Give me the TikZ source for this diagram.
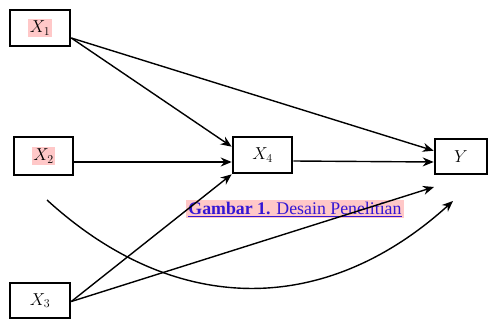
\documentclass[tikz,border=0pt]{standalone}
\usepackage{fontspec}
\newfontfamily\capfont{Liberation Serif}
\usetikzlibrary{arrows.meta}
\definecolor{hl}{RGB}{255,200,200}
\definecolor{captxt}{RGB}{52,22,212}
\setlength{\fboxsep}{1.5pt}
\begin{document}
\begin{tikzpicture}[x=1pt,y=-1pt,
  var/.style={draw,line width=2.6pt,inner sep=0pt,fill=white,font=\fontsize{17.28}{19}\selectfont},
  conn/.style={line width=1.4pt,-{Stealth[length=11pt,width=9pt]}}]
\useasboundingbox (0,0) rectangle (488,321);
\node[var,minimum width=60pt,minimum height=36pt] (X1) at (40,28) {\colorbox{hl}{$X_1$}};
\node[var,minimum width=59pt,minimum height=38pt] (X2) at (43.5,156) {\colorbox{hl}{$X_2$}};
\node[var,minimum width=60pt,minimum height=35pt] (X3) at (40,300.5) {$X_3$};
\node[var,minimum width=59pt,minimum height=36pt] (X4) at (262.5,155) {$X_4$};
\node[var,minimum width=52pt,minimum height=35pt] (Y) at (461,156.5) {$Y$};
\coordinate (yb) at (434,187);
\coordinate (cs) at (47,200);
\coordinate (ce) at (453,201);
\node[fill=hl,inner sep=2pt,text=captxt,font=\capfont\fontsize{17.8}{20}\selectfont] (cap) at (295,209)
  {\underline{\textbf{Gambar 1.} Desain Penelitian}};
\draw[conn] ([yshift=-10pt]X1.east) -- ([yshift=-11pt]X4.north west);
\draw[conn] ([yshift=-10pt]X1.east) -- ([yshift=-13pt]Y.north west);
\draw[conn] ([yshift=-6pt]X2.east) -- ([yshift=-7pt]X4.west);
\draw[conn] ([yshift=-1pt]X3.east) -- (X4.south west);
\draw[conn] ([yshift=-1pt]X3.east) -- (yb);
\draw[conn] ([yshift=-6pt]X4.east) -- ([yshift=-5.5pt]Y.west);
\draw[conn] (cs) .. controls (175,317) and (325,317) .. (ce);
\end{tikzpicture}
\end{document}
